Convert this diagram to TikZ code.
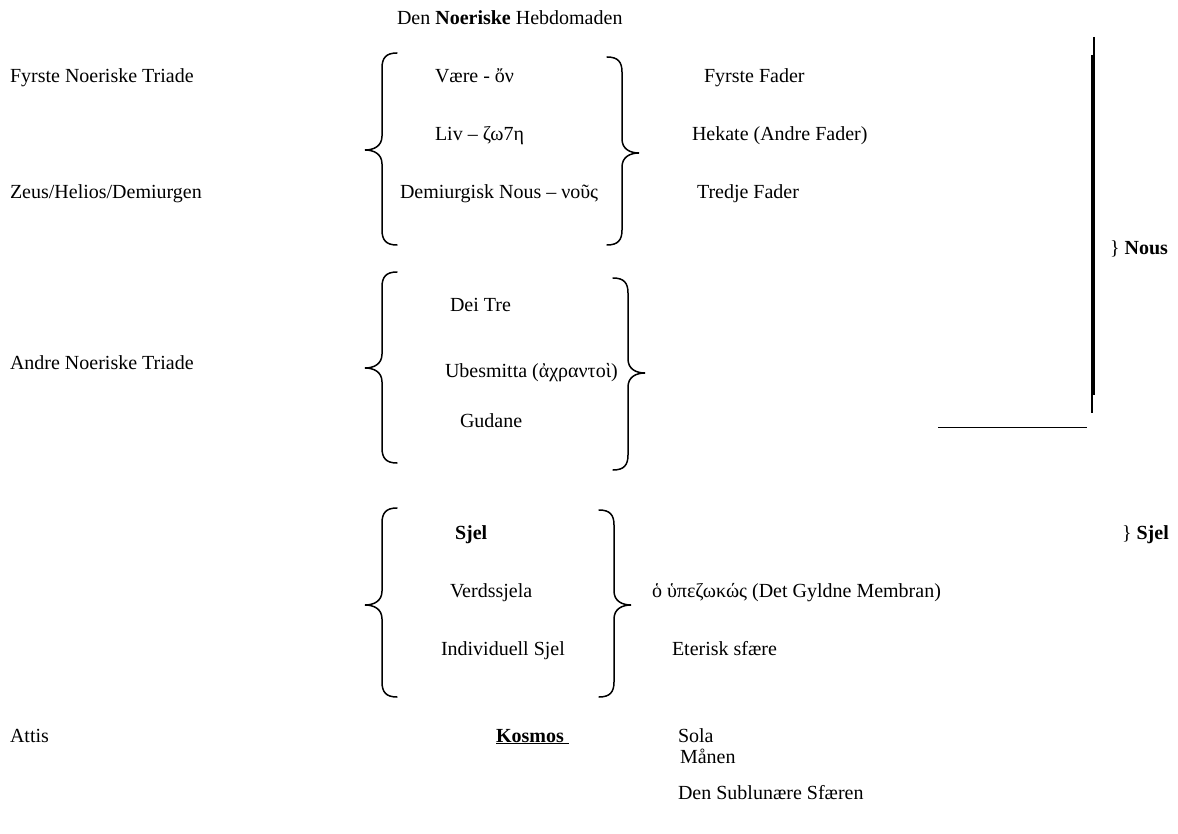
\documentclass[tikz,border=0pt]{standalone}
\usepackage{fontspec}
\setmainfont{Liberation Serif}
\newcommand{\LeftBr}[4]{%
\draw[bracestyle] (#1+15,#2) .. controls (#1+4,#2) and (#1,#2+5) .. (#1,#2+15) -- (#1,#3-14) .. controls (#1,#3-4) and (#1-8,#3) .. (#1-17,#3) .. controls (#1-8,#3) and (#1,#3+4) .. (#1,#3+14) -- (#1,#4-15) .. controls (#1,#4-5) and (#1+4,#4) .. (#1+15,#4);}
\newcommand{\RightBr}[4]{%
\draw[bracestyle] (#1-15,#2) .. controls (#1-4,#2) and (#1,#2+5) .. (#1,#2+15) -- (#1,#3-14) .. controls (#1,#3-4) and (#1+8,#3) .. (#1+17,#3) .. controls (#1+8,#3) and (#1,#3+4) .. (#1,#3+14) -- (#1,#4-15) .. controls (#1,#4-5) and (#1-4,#4) .. (#1-15,#4);}
\begin{document}
\begin{tikzpicture}[x=1pt,y=-1pt,
  txt/.style={anchor=base west,inner sep=0pt,outer sep=0pt,font=\fontsize{20}{24}\selectfont},
  bracestyle/.style={line width=1.5pt,line cap=round}]
\useasboundingbox (0,0) rectangle (1178,834);
% title
\node[txt] (title) at (397,25) {Den \textbf{Noeriske} Hebdomaden};
% left labels
\node[txt] (l1) at (10,83) {Fyrste Noeriske Triade};
\node[txt] (l2) at (10,199) {Zeus/Helios/Demiurgen};
\node[txt] (l3) at (10,369) {Andre Noeriske Triade};
\node[txt] (l4) at (10,742) {Attis};
% brace 1
\LeftBr{382}{53}{150}{245}
\RightBr{622}{57}{153}{245}
\node[txt] (a1) at (435,83) {Være - ὄν};
\node[txt] (a2) at (435,141) {Liv – ζω7η};
\node[txt] (a3) at (400,199) {Demiurgisk Nous – νοῦς};
\node[txt] (f1) at (704,83) {Fyrste Fader};
\node[txt] (f2) at (692,141) {Hekate (Andre Fader)};
\node[txt] (f3) at (697,199) {Tredje Fader};
% brace 2
\LeftBr{382}{272}{368}{463}
\RightBr{628}{278}{373}{470}
\node[txt] (b1) at (450,312) {Dei Tre};
\node[txt] (b2) at (445,377) {Ubesmitta (ἀχραντοὶ)};
\node[txt] (b3) at (460,427) {Gudane};
% brace 3
\LeftBr{382}{508}{605}{697}
\RightBr{614}{510}{605}{697}
\node[txt] (c1) at (455,539) {\textbf{Sjel}};
\node[txt] (c2) at (450,597) {Verdssjela};
\node[txt] (c3) at (441,655) {Individuell Sjel};
\node[txt] (d1) at (652,597) {ὁ ὑπεζωκώς (Det Gyldne Membran)};
\node[txt] (d2) at (672,655) {Eterisk sfære};
% right side
\draw[line width=1.5pt] (1094,37) -- (1094,395);
\draw[line width=1.5pt] (1092,55) -- (1092,413);
\draw[line width=0.8pt] (938,427) -- (1087,427);
\node[txt] (nous) at (1110,255) {\} \textbf{Nous}};
\node[txt] (sjel) at (1122,539) {\} \textbf{Sjel}};
% bottom
\node[txt] (kos) at (496,742) {\underline{\textbf{Kosmos}\ }};
\node[txt] (s1) at (678,742) {Sola};
\node[txt] (s2) at (680,763) {Månen};
\node[txt] (s3) at (678,799) {Den Sublunære Sfæren};
\end{tikzpicture}
\end{document}
